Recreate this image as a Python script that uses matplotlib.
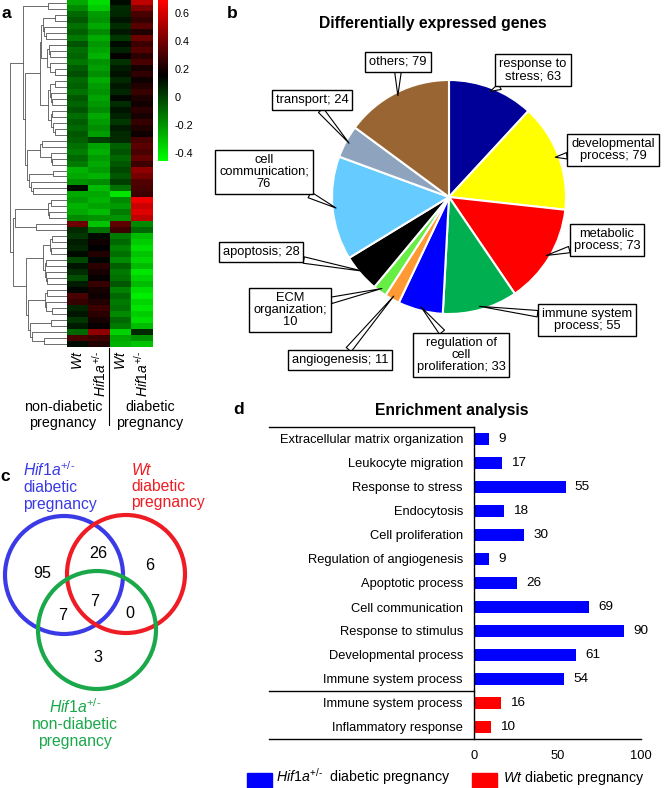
import numpy as np
import matplotlib
matplotlib.use("Agg")
import matplotlib.pyplot as plt
from matplotlib.colors import LinearSegmentedColormap
from matplotlib.patches import Circle, Rectangle

plt.rcParams['font.family'] = ['Liberation Sans', 'DejaVu Sans']
plt.rcParams['mathtext.fontset'] = 'custom'
plt.rcParams['mathtext.rm'] = 'Liberation Sans'
plt.rcParams['mathtext.it'] = 'Liberation Sans:italic'
plt.rcParams['mathtext.bf'] = 'Liberation Sans:bold'
plt.rcParams['axes.unicode_minus'] = False

# ---------------- data ----------------
# panel a: heatmap rows (Wt non-diab, Hif1a non-diab, Wt diab, Hif1a diab)
heat_rows = [
    [-0.25, -0.38, 0.12, 0.55],
    [-0.18, -0.33, 0.05, 0.42],
    [-0.10, -0.22, 0.06, 0.30],
    [-0.06, -0.20, 0.10, 0.26],
    [-0.12, -0.25, 0.04, 0.34],
    [-0.08, -0.18, 0.09, 0.22],
    [-0.14, -0.26, 0.02, 0.38],
    [-0.05, -0.21, 0.12, 0.28],
    [-0.11, -0.24, 0.07, 0.33],
    [-0.09, -0.28, 0.16, 0.24],
    [-0.13, -0.20, 0.03, 0.30],
    [-0.07, -0.23, 0.08, 0.20],
    [-0.04, -0.19, 0.11, 0.25],
    [-0.10, -0.26, 0.05, 0.18],
    [-0.08, -0.22, 0.09, 0.22],
    [-0.12, -0.20, 0.06, 0.27],
    [-0.06, -0.24, 0.13, 0.21],
    [-0.09, -0.21, 0.04, 0.19],
    [-0.05, -0.18, 0.10, 0.24],
    [-0.11, -0.25, 0.07, 0.20],
    [-0.07, -0.22, 0.02, 0.26],
    [-0.10, -0.19, 0.08, 0.22],
    [-0.06, -0.23, 0.05, 0.18],
    [-0.08, 0.00, 0.05, 0.30],
    [-0.12, -0.24, -0.08, 0.34],
    [-0.15, -0.27, -0.05, 0.30],
    [-0.10, -0.22, -0.10, 0.36],
    [-0.14, -0.25, -0.06, 0.28],
    [-0.28, -0.22, -0.02, 0.45],
    [-0.25, -0.28, -0.06, 0.40],
    [-0.20, -0.18, 0.00, 0.32],
    [0.12, -0.30, -0.12, 0.30],
    [-0.26, -0.25, -0.40, 0.28],
    [-0.22, -0.28, -0.18, 0.66],
    [-0.28, -0.24, -0.22, 0.58],
    [-0.25, -0.30, -0.15, 0.62],
    [-0.18, -0.20, -0.20, 0.55],
    [0.38, -0.32, 0.35, -0.18],
    [0.05, -0.12, 0.28, -0.10],
    [0.02, 0.12, -0.14, -0.30],
    [0.08, 0.18, -0.10, -0.34],
    [0.06, 0.15, -0.16, -0.38],
    [0.12, 0.22, -0.12, -0.32],
    [-0.02, 0.14, -0.18, -0.36],
    [0.10, 0.24, -0.08, -0.30],
    [0.04, 0.20, -0.14, -0.40],
    [-0.04, 0.16, -0.12, -0.35],
    [0.08, 0.26, -0.06, -0.30],
    [0.14, 0.20, -0.16, -0.38],
    [0.30, 0.18, -0.10, -0.42],
    [0.26, 0.22, -0.14, -0.36],
    [0.06, 0.28, -0.12, -0.40],
    [0.10, 0.24, -0.18, -0.34],
    [0.02, 0.20, -0.10, -0.38],
    [0.08, 0.16, -0.14, -0.30],
    [-0.10, 0.45, -0.35, 0.05],
    [0.30, 0.28, -0.25, -0.20],
    [0.12, 0.22, -0.28, -0.32],
]
HIF = "$\\mathit{Hif1a}^{\\mathit{+/}\\text{-}}$"
heat_cols = ["$\\mathit{Wt}$", HIF, "$\\mathit{Wt}$", HIF]
heat_groups = ["non-diabetic\npregnancy", "diabetic\npregnancy"]
cbar_ticks = [-0.4, -0.2, 0, 0.2, 0.4, 0.6]
cbar_labels = ["-0.4", "-0.2", "0", "0.2", "0.4", "0.6"]
# dendrogram clusters (row ranges)
dendro_tree = [[(0, 2), [[(2, 13), (13, 23)], [(23, 28), (28, 33)]]],
               [[(33, 37), (37, 39)], (39, 58)]]

# panel b: pie
pie_labels = ["response to\nstress; 63", "developmental\nprocess; 79", "metabolic\nprocess; 73",
              "immune system\nprocess; 55", "regulation of\ncell\nproliferation; 33",
              "angiogenesis; 11", "ECM\norganization;\n10", "apoptosis; 28",
              "cell\ncommunication;\n76", "transport; 24", "others; 79"]
pie_values = [63, 79, 73, 55, 33, 11, 10, 28, 76, 24, 79]
pie_colors = ["#000099", "#FFFF00", "#FF0000", "#00B050", "#0000FF", "#FF9933",
              "#66EE44", "#000000", "#66CCFF", "#8EA4BE", "#996633"]

# panel c: venn
venn_counts = {"A": 95, "AB": 26, "B": 6, "AC": 7, "ABC": 7, "BC": 0, "C": 3}

# panel d: enrichment
enr_terms = ["Extracellular matrix organization", "Leukocyte migration", "Response to stress",
             "Endocytosis", "Cell proliferation", "Regulation of angiogenesis",
             "Apoptotic process", "Cell communication", "Response to stimulus",
             "Developmental process", "Immune system process",
             "Immune system process", "Inflammatory response"]
enr_values = [9, 17, 55, 18, 30, 9, 26, 69, 90, 61, 54, 16, 10]
enr_group = ["Hif1a", "Hif1a", "Hif1a", "Hif1a", "Hif1a", "Hif1a", "Hif1a", "Hif1a",
             "Hif1a", "Hif1a", "Hif1a", "Wt", "Wt"]

BLUE_V = "#3a3ae6"
RED_V = "#ee1c24"
GREEN_V = "#1aa84a"

# ---------------- figure ----------------
W, H = 664, 788
fig = plt.figure(figsize=(W / 100, H / 100), dpi=100)


def px_axes(x0, y0, x1, y1, **kw):
    return fig.add_axes([x0 / W, 1 - y1 / H, (x1 - x0) / W, (y1 - y0) / H], **kw)


# ---- panel a ----
heat = np.array(heat_rows)
nrow = len(heat)
cmap = LinearSegmentedColormap.from_list(
    "gbr", [(0, (0, 1, 0)), (0.53, (0, 0, 0)), (1, (1, 0, 0))])
axh = px_axes(67, 0, 153, 347)
im = axh.imshow(heat, cmap=cmap, vmin=-0.46, vmax=0.69, aspect="auto",
                interpolation="nearest", extent=(0, 4, nrow, 0))
axh.axis("off")

cax = px_axes(158, 0, 168, 161)
cb = fig.colorbar(im, cax=cax, ticks=cbar_ticks)
cb.outline.set_visible(False)
cb.set_ticklabels(cbar_labels)
cax.tick_params(length=0, labelsize=7.8, pad=5)


def build(node):
    if isinstance(node, tuple):
        s, e = node
        if e - s == 1:
            return s
        m = (s + e) // 2
        return [build((s, m)), build((m, e))]
    return [build(node[0]), build(node[1])]


def leaves(n):
    return [n] if isinstance(n, int) else leaves(n[0]) + leaves(n[1])


segs = []


def walk(n):
    if isinstance(n, int):
        return n + 0.5, 0.0
    y1, h1 = walk(n[0])
    y2, h2 = walk(n[1])
    L1, L2 = leaves(n[0]), leaves(n[1])
    d = np.mean([np.linalg.norm(heat[a] - heat[b]) for a in L1 for b in L2])
    h = max(d, max(h1, h2) * 1.08 + 0.01)
    segs.append(([h1, h, h, h2], [y1, y1, y2, y2]))
    return (y1 + y2) / 2, h


tree = build(dendro_tree)
_, hmax = walk(tree)
axd0 = px_axes(8, 0, 67, 347)
for xs, ys in segs:
    axd0.plot([(x / hmax) ** 0.55 for x in xs], ys, color="#555555", lw=0.6)
axd0.set_xlim(1.04, 0)
axd0.set_ylim(nrow, 0)
axd0.axis("off")

# ---- panel b ----
axp = px_axes(332, 80, 566, 314)
wedges, _ = axp.pie(pie_values, colors=pie_colors, startangle=90, counterclock=False,
                    wedgeprops=dict(edgecolor="white", linewidth=1.5))
axp.set_xlim(-1, 1)
axp.set_ylim(-1, 1)
axp.set_aspect("equal")
axp.axis("off")
box_pos = [(533, 70), (613, 150), (607, 240), (587, 320), (461, 355), (340, 360),
           (290, 310), (261, 252), (264, 172), (312, 100), (398, 62)]
total = float(sum(pie_values))
cum = 0.0
for lab, v, (bx, by) in zip(pie_labels, pie_values, box_pos):
    mid = np.deg2rad((cum + v / 2) / total * 360)
    cum += v
    tip = (0.97 * np.sin(mid), 0.97 * np.cos(mid))
    axp.annotate(lab, xy=tip, xycoords="data", xytext=(bx, H - by),
                 textcoords="figure pixels", ha="center", va="center", fontsize=9.3,
                 linespacing=1.05, annotation_clip=False,
                 bbox=dict(boxstyle="square,pad=0.3", fc="white", ec="black", lw=1),
                 arrowprops=dict(arrowstyle="wedge,tail_width=0.5", fc="white", ec="black",
                                 lw=0.8, shrinkA=0, shrinkB=0))

# ---- panel d ----
axb = px_axes(474, 427, 641, 739)
ypos = np.arange(len(enr_terms))
cols = ["#0000FF" if g == "Hif1a" else "#FF0000" for g in enr_group]
axb.barh(ypos, enr_values, height=0.48, color=cols)
axb.set_xlim(0, 100)
axb.set_ylim(len(enr_terms) - 0.5, -0.5)
for s in ["top", "right", "bottom"]:
    axb.spines[s].set_visible(False)
axb.spines["left"].set_linewidth(1)
axb.set_yticks(ypos)
axb.set_yticklabels(enr_terms)
axb.set_xticks([0, 50, 100])
axb.tick_params(axis="y", length=0, pad=8, labelsize=9.3)
axb.tick_params(axis="x", length=0, pad=8, labelsize=9.3)
left_ext = -(474 - 269) / 167 * 100
n = len(enr_terms)
axb.plot([left_ext, 100], [n - 0.5, n - 0.5], color="k", lw=1, clip_on=False)
axb.plot([left_ext, 0], [-0.5, -0.5], color="k", lw=1, clip_on=False)
n_h = sum(1 for g in enr_group if g == "Hif1a")
axb.plot([left_ext, 0], [n_h - 0.5, n_h - 0.5], color="k", lw=1, clip_on=False)
for i, v in enumerate(enr_values):
    axb.annotate(str(v), (v, i), xytext=(6.5, 0), textcoords="offset points",
                 ha="left", va="center", fontsize=9.7)

# ---- overlay (pixel coordinates) ----
ov = fig.add_axes([0, 0, 1, 1])
ov.set_xlim(0, W)
ov.set_ylim(H, 0)
ov.axis("off")
ov.patch.set_visible(False)

# panel letters
for lt, (x, y) in zip("abcd", [(2, 13), (227, 13), (0, 476), (233, 409)]):
    ov.text(x, y, lt, fontsize=12.5, fontweight="bold", ha="left", va="center")

# titles
ov.text(433, 23, "Differentially expressed genes", fontsize=11.3, fontweight="bold",
        ha="center", va="center")
ov.text(452, 410, "Enrichment analysis", fontsize=11.3, fontweight="bold",
        ha="center", va="center")

# heatmap labels
for i, lab in enumerate(heat_cols):
    ov.text(67 + (i + 0.5) * 86 / 4, 351, lab, rotation=90, ha="center", va="top", fontsize=10)
ov.text(63, 415, heat_groups[0], ha="center", va="center", fontsize=10.3, linespacing=1.15)
ov.text(150, 415, heat_groups[1], ha="center", va="center", fontsize=10.3, linespacing=1.15)
ov.plot([109, 109], [348, 425], color="k", lw=0.8)

# venn
ov.add_patch(Circle((64, 575), 59, fill=False, ec=BLUE_V, lw=3))
ov.add_patch(Circle((126, 574), 59, fill=False, ec=RED_V, lw=3))
ov.add_patch(Circle((97, 630), 59, fill=False, ec=GREEN_V, lw=3))
venn_pos = {"A": (42, 573), "AB": (98, 553), "B": (150, 566), "AC": (63, 616),
            "ABC": (95, 602), "BC": (130, 613), "C": (98, 657)}
for k, v in venn_counts.items():
    x, y = venn_pos[k]
    ov.text(x, y, str(v), ha="center", va="center", fontsize=11.6)
ov.text(23, 486, HIF + "\ndiabetic\npregnancy", color=BLUE_V,
        ha="left", va="center", fontsize=11.3, linespacing=1.1)
ov.text(131, 486, "$\\mathit{Wt}$\ndiabetic\npregnancy", color=RED_V,
        ha="left", va="center", fontsize=11.3, linespacing=1.1)
ov.text(75, 723, HIF + "\nnon-diabetic\npregnancy", color=GREEN_V,
        ha="center", va="center", fontsize=11.3, linespacing=1.1)

# legend
ov.add_patch(Rectangle((247, 773), 25, 20, color="#0000FF", clip_on=False))
ov.text(276, 777, HIF + "  diabetic pregnancy", ha="left", va="center",
        fontsize=10.2)
ov.add_patch(Rectangle((472, 773), 25, 20, color="#FF0000", clip_on=False))
ov.text(503, 778, "$\\mathit{Wt}$ diabetic pregnancy", ha="left", va="center", fontsize=10.2)

fig.savefig("out.png", dpi=100)
